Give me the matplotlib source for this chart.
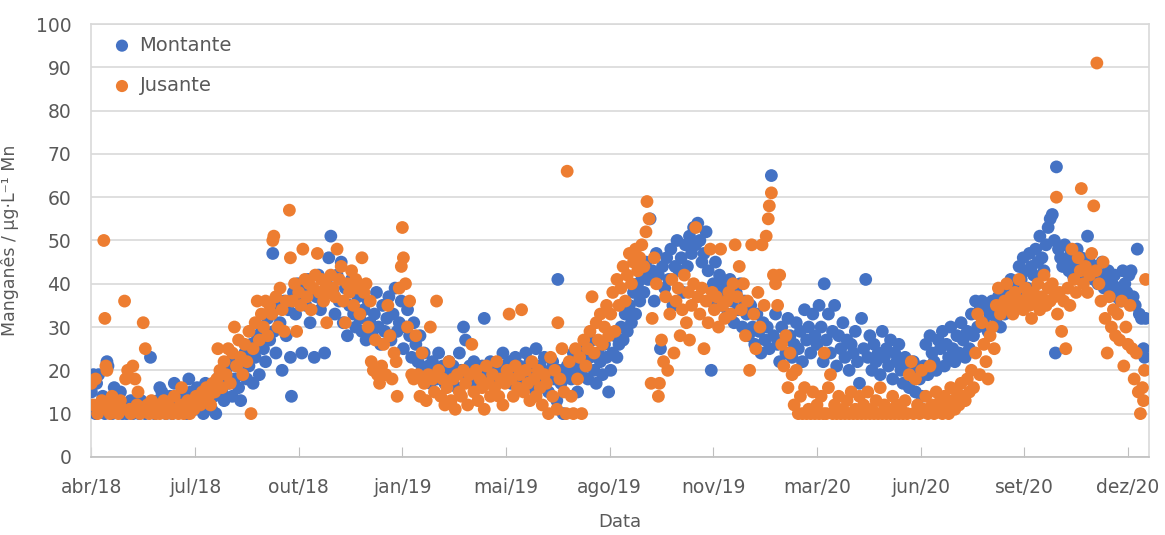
import matplotlib
matplotlib.use("Agg")
import matplotlib.pyplot as plt

# Manganese concentration, upstream (Montante) and downstream (Jusante)
# x values are days counted from 2 Apr 2018
mont_day = [0, 2, 4, 5, 7, 9, 11, 13, 15, 16, 18, 20, 22, 24, 26, 28, 30,
            32, 34, 36, 38, 40, 42, 44, 46, 48, 50, 52, 55, 57, 59,
            61, 64, 66, 68, 70, 72, 74, 76, 78, 80, 82, 84, 86, 88, 90, 92, 94,
            96, 98, 100, 102, 104, 106, 108, 110, 112, 114, 116, 118, 120, 122, 124, 126, 128,
            130, 132, 134, 136, 138, 140, 142, 144, 146, 148,
            150, 152, 154, 156, 158, 160, 162, 164, 166, 168, 170, 172, 174, 175, 176, 178,
            180, 182, 184, 186, 188, 190,
            192, 193, 195, 197, 199, 201, 203, 205, 207, 209, 211, 213, 215, 217, 219, 221,
            223, 225, 227, 229, 231, 233, 235, 237, 239, 241, 243, 245, 247, 249, 251, 253,
            255, 257, 259,
            261, 263, 265, 267, 269, 271, 273, 275, 277, 279, 281, 283, 285, 287, 289, 291,
            293, 295, 297, 299,
            301, 303, 305, 307, 309, 311, 313, 315, 317, 319, 321, 323, 325, 327, 329, 331,
            333, 335, 337, 339,
            341, 343, 345, 347, 349, 351, 353, 355, 357, 359, 361, 363, 365, 367, 369, 371,
            373, 375, 377, 379, 381, 383, 385, 387, 389, 391, 393, 395, 397, 399, 401, 403,
            405, 407, 409, 411, 413, 415, 417, 419,
            421, 423, 425, 427, 429, 431, 433, 435, 437, 439, 441, 443, 445, 447, 449, 450,
            451, 453, 455, 457, 459, 463, 465, 467, 469, 471, 473, 475, 477, 479, 481, 483,
            485, 487, 489, 491, 493, 495, 497, 499,
            501, 503, 505, 507, 509, 511, 513, 515, 517, 519, 521, 523, 525, 527, 529, 531,
            533, 535, 537, 539, 541, 543, 545, 547, 549, 551, 553, 555, 557, 559, 561, 563,
            565, 567, 569, 571, 573, 575, 577, 579, 581, 583, 585, 587, 589,
            591, 593, 595, 597, 598, 600, 602, 604, 606, 608, 610, 612, 614, 616, 618, 620,
            622, 624, 626, 628, 630, 632, 634, 636, 638, 640, 642, 644, 646, 648, 650,
            652, 654, 656, 658, 660, 662, 664, 666, 668, 670, 672, 674, 676, 678, 680, 682,
            684, 686, 688, 690, 692, 694, 696, 698,
            700, 702, 704, 706, 707, 709, 711, 713, 715, 717, 719, 721, 723, 725, 727, 729,
            731, 733, 735, 737, 739, 741, 743, 745, 747, 749, 751, 753, 755, 757, 759, 761,
            763, 765, 767, 769, 771, 773, 775, 777, 779,
            781, 783, 785, 787, 789, 791, 793, 795, 797, 799, 801, 803, 805, 807, 809, 811,
            813, 815, 817, 819, 821, 823, 825, 827, 829, 831, 833, 835, 837, 839, 841, 843,
            845, 847, 849, 851, 853, 855, 857, 859, 861, 863, 865, 867, 869,
            871, 873, 875, 877, 879, 881, 883, 885, 887, 889, 891, 893, 895, 897, 899, 901,
            903, 905, 907, 909, 911, 913, 915, 917, 919, 921, 923, 925, 927, 929, 930, 931,
            933, 935, 937, 939, 941, 943, 945, 947, 949, 951, 953, 955, 957, 959, 961, 963,
            965, 967, 969, 971, 973, 975, 977, 979, 981, 983, 985, 987, 989, 991, 993, 995,
            997, 999, 1001, 1003, 1005, 1007, 1009, 1011, 1013, 1015, 1016, 1017]
mont_val = [15, 19, 10, 17, 19, 12, 14, 10, 22, 21, 12, 10, 16, 13, 11, 15, 10,
            12, 10, 11, 13, 10, 12, 11, 10, 13, 11, 10, 12, 23, 11,
            10, 13, 16, 15, 11, 10, 13, 14, 10, 17, 12, 11, 13, 15, 11, 10, 18,
            15, 13, 11, 16, 14, 12, 10, 17, 15, 13, 11, 14, 10, 16, 19, 15, 13,
            20, 17, 22, 14, 18, 21, 16, 13, 19, 24,
            18, 21, 26, 17, 23, 28, 19, 30, 25, 22, 32, 27, 33, 47, 29, 24,
            35, 31, 20, 36, 28, 34,
            23, 14, 38, 33, 40, 36, 24, 39, 35, 41, 31, 38, 23, 37, 42, 34,
            36, 24, 40, 46, 51, 38, 33, 42, 36, 45, 31, 39, 28, 35, 41, 33,
            30, 37, 32,
            29, 34, 27, 36, 31, 28, 33, 38, 30, 26, 35, 29, 32, 37, 27, 33,
            39, 29, 31, 36,
            25, 30, 34, 28, 23, 31, 26, 22, 28, 20, 24, 19, 21, 17, 22, 20,
            18, 24, 19, 21,
            17, 20, 22, 18, 21, 19, 16, 24, 20, 30, 27, 18, 21, 19, 22, 17,
            20, 19, 21, 32, 18, 20, 22, 19, 17, 20, 21, 18, 24, 20, 19, 22,
            17, 20, 23, 19, 21, 18, 20, 24,
            19, 22, 16, 20, 25, 18, 21, 17, 23, 19, 15, 20, 22, 18, 13, 41,
            20, 17, 10, 19, 21, 18, 24, 20, 15, 22, 19, 25, 21, 18, 23, 27,
            20, 17, 24, 22, 19, 26, 23, 15,
            20, 24, 28, 23, 26, 30, 27, 33, 29, 35, 31, 38, 33, 40, 36, 42,
            38, 45, 41, 55, 43, 36, 47, 42, 25, 44, 39, 46, 41, 48, 35, 44,
            50, 43, 46, 38, 49, 44, 51, 47, 53, 49, 54, 50, 45,
            47, 52, 43, 36, 20, 40, 45, 38, 42, 35, 40, 37, 33, 41, 36, 31,
            38, 34, 40, 30, 36, 33, 28, 35, 30, 26, 33, 29, 24, 31, 27,
            30, 25, 65, 28, 33, 26, 22, 30, 27, 24, 32, 28, 23, 26, 31, 25,
            29, 22, 34, 27, 30, 24, 33, 28,
            26, 35, 30, 22, 40, 27, 33, 24, 29, 35, 21, 28, 25, 31, 23, 27,
            20, 26, 24, 29, 22, 17, 32, 25, 41, 23, 28, 20, 26, 22, 24, 19,
            29, 23, 25, 21, 27, 18, 24, 22, 26,
            20, 17, 23, 21, 16, 19, 22, 15, 20, 18, 14, 21, 26, 19, 28, 24,
            22, 20, 27, 25, 29, 21, 26, 23, 30, 25, 22, 28, 24, 31, 27, 23,
            29, 25, 33, 28, 36, 30, 34, 36, 31, 35, 29, 33, 36,
            34, 32, 37, 30, 35, 33, 38, 36, 41, 35, 40, 37, 44, 41, 46, 43,
            39, 47, 44, 42, 48, 45, 51, 46, 43, 49, 53, 55, 56, 50, 24, 67,
            48, 46, 44, 49, 45, 43, 47, 42, 45, 48, 44, 46, 42, 44, 51, 45,
            43, 41, 44, 40, 42, 45, 39, 41, 43, 38, 40, 42, 37, 39, 36, 43,
            40, 38, 42, 43, 37, 35, 48, 33, 32, 25, 23, 32]

jus_day = [0, 2, 4, 6, 8, 10, 12, 13, 14, 15, 16, 18, 20, 22, 24, 26, 28, 30,
           32, 33, 35, 37, 38, 40, 42, 44, 45, 47, 49, 50, 52, 54, 56, 58, 60,
           62, 64, 66, 68, 70, 72, 74, 76, 78, 80, 82, 84, 86, 87, 89, 91, 93, 95,
           97, 99, 101, 103, 105, 107, 109, 111, 113, 115, 117, 119, 121, 122, 124, 126,
           128, 130, 132, 134, 136, 138, 140, 142, 144, 146, 148, 150, 152, 154, 156, 158,
           160, 162, 164, 166, 168, 170, 172, 174, 175, 176, 178, 180, 182, 184, 186, 188,
           191, 192, 194, 196, 198, 200, 202, 204, 206, 208, 210, 212, 214, 216, 218, 220,
           222, 224, 226, 227, 229, 231, 233, 235, 237, 239, 241, 243, 245, 247, 249, 251,
           253, 255, 257, 259, 261, 263, 265, 267, 269,
           270, 272, 274, 276, 278, 280, 282, 284, 286, 288, 290, 292, 294, 295, 297, 299,
           300, 301, 303, 305, 307, 309,
           311, 313, 315, 317, 319, 321, 323, 325, 327, 329, 331, 333, 335, 337, 339, 341,
           343, 345, 347, 349, 351, 353, 355, 357, 359, 361, 363, 365, 367, 369, 371, 373,
           375, 377, 379, 381, 383, 385, 387, 389, 391, 393, 395, 397, 399, 401, 403, 405,
           407, 409, 411, 413, 415, 417, 419, 421, 423, 425, 427, 429, 431, 433, 435, 437,
           439, 441, 443, 445, 447, 449, 450, 452, 454, 456, 458, 459, 461, 463, 465, 467,
           469, 471, 473, 475, 477, 479, 481, 483, 485, 487, 489, 491, 493, 495, 497, 499,
           501, 503, 505, 507, 509, 511, 513, 515, 517, 519, 521, 523, 525, 527, 529, 531,
           533, 535, 536, 538, 540, 541, 543, 545, 547, 548, 550, 552, 554, 556, 558, 560,
           562, 564, 566, 568, 570, 572, 574, 576, 577, 579, 581, 583, 585, 587, 589, 591,
           593, 595, 597, 599, 601, 603, 605, 607, 609, 611, 613, 615, 617, 619, 621, 623,
           625, 627, 629, 631, 633, 635, 637, 639, 641, 643, 645, 647, 649, 651, 653, 654,
           656, 658, 660, 662, 664, 666, 668, 670, 672, 674, 676, 678, 680,
           682, 684, 686, 688, 690, 692, 694, 696, 698, 700, 702, 704, 706, 707, 709, 711,
           713, 715, 717, 719, 721, 723, 725, 727, 729, 731, 733, 735, 737, 739, 741, 743,
           745, 747, 749, 751, 753, 755, 757, 759, 761, 763, 765, 767, 769, 771, 773, 775,
           777, 779, 781, 783, 785, 787, 789, 791, 793, 795, 797, 799, 801, 803, 805, 807,
           809, 811, 813, 815, 817, 819, 821, 823, 825, 827, 829, 831, 833, 835, 837, 839,
           841, 843, 845, 847, 849, 851, 853, 855, 857, 859, 861, 863, 865, 867, 869, 871,
           873, 875, 877,
           879, 881, 883, 885, 887, 889, 891, 893, 895, 897, 899, 901, 903, 905, 907, 909,
           911, 913, 915, 917, 919, 921, 923, 925, 927, 929, 931, 932, 934, 936, 938, 940,
           942, 944, 946, 948, 950, 952, 954, 955, 957, 959, 961, 963, 965, 967, 969, 970,
           972, 974, 976, 978, 980, 982, 984, 986, 988, 990, 992, 994, 996, 998, 1000, 1002,
           1004, 1006, 1008, 1010, 1012, 1014, 1015, 1016, 1017]
jus_val = [17, 12, 18, 10, 11, 13, 50, 32, 21, 20, 12, 10, 14, 11, 12, 10, 13, 11,
           36, 18, 20, 11, 10, 21, 18, 12, 15, 10, 11, 31, 25, 12, 10, 13, 11,
           10, 12, 10, 11, 13, 10, 12, 11, 10, 14, 11, 10, 12, 16, 10, 11, 13, 10,
           12, 11, 14, 13, 12, 15, 13, 16, 14, 12, 17, 15, 18, 25, 20, 16,
           22, 19, 25, 17, 24, 30, 21, 27, 23, 19, 26, 22, 29, 10, 25, 31,
           36, 27, 33, 30, 36, 28, 35, 33, 50, 51, 37, 30, 39, 34, 29, 36,
           57, 46, 36, 40, 29, 38, 35, 48, 41, 37, 40, 34, 39, 42, 47, 38,
           41, 36, 40, 31, 38, 42, 39, 37, 48, 41, 44, 36, 31, 40, 38, 43,
           35, 41, 39, 33, 46, 38, 40, 30, 36,
           22, 20, 27, 19, 17, 21, 26, 19, 35, 28, 18, 24, 22, 14, 39, 44,
           53, 46, 40, 30, 36, 19,
           18, 28, 19, 14, 24, 17, 13, 19, 30, 18, 15, 36, 20, 14, 18, 12,
           16, 22, 13, 18, 11, 19, 15, 14, 20, 17, 12, 19, 26, 15, 20, 13,
           18, 16, 11, 21, 17, 14, 19, 16, 22, 14, 18, 12, 17, 20, 33, 18,
           14, 21, 16, 19, 34, 15, 20, 17, 13, 22, 18, 14, 20, 16, 12, 19,
           17, 10, 23, 14, 20, 11, 31, 18, 25, 15, 10, 66, 22, 14, 10, 25,
           18, 23, 10, 27, 21, 25, 29, 37, 24, 31, 27, 33, 26, 30, 35, 28,
           33, 38, 29, 41, 35, 39, 44, 36, 42, 47, 40, 45, 48, 43, 46, 49,
           44, 52, 59, 55, 17, 32, 46, 40, 14, 17, 27, 22, 37, 20, 33, 41,
           24, 36, 39, 28, 34, 42, 31, 38, 27, 35, 40, 53, 37, 33, 39, 25,
           36, 31, 48, 38, 34, 37, 30, 48, 35, 32, 36, 38, 33, 40, 49, 37,
           44, 34, 40, 28, 36, 20, 49, 33, 25, 38, 30, 49, 35, 51, 55, 58,
           61, 42, 40, 35, 42, 26, 21, 28, 16, 24, 19, 12, 20,
           10, 14, 10, 16, 10, 11, 10, 15, 10, 12, 10, 14, 10, 24, 10, 16,
           19, 10, 12, 10, 14, 10, 11, 10, 13, 10, 15, 10, 11, 10, 14, 10,
           12, 10, 15, 10, 11, 10, 13, 10, 16, 10, 12, 10, 11, 10, 14, 10,
           12, 10, 11, 10, 13, 10, 19, 22, 10, 18, 12, 10, 20, 11, 14, 10,
           21, 12, 10, 15, 11, 13, 10, 14, 12, 10, 16, 13, 11, 15, 12, 17,
           14, 13, 18, 15, 20, 16, 24, 33, 19, 31, 26, 22, 18, 28, 30, 25,
           35, 39, 33,
           34, 36, 40, 35, 37, 33, 38, 35, 41, 36, 34, 39, 37, 35, 32, 38,
           36, 40, 34, 37, 42, 35, 39, 36, 40, 37, 60, 33, 38, 29, 36, 25,
           39, 35, 48, 41, 38, 46, 43, 62, 40, 44, 38, 42, 47, 58, 43, 91,
           40, 36, 45, 32, 24, 37, 30, 34, 28, 33, 27, 36, 21, 30, 26, 35,
           25, 18, 24, 15, 10, 16, 13, 20, 41]

tick_labels = ["abr/18", "jul/18", "out/18", "jan/19", "mai/19", "ago/19",
               "nov/19", "mar/20", "jun/20", "set/20", "dez/20"]
tick_days = [0, 100, 200, 300, 400, 500, 600, 700, 800, 900, 1000]

text_col = "#595959"
grid_col = "#D9D9D9"

fig = plt.figure(figsize=(11.65, 5.35), dpi=100)
ax = fig.add_axes([0.078, 0.146, 0.908, 0.809])

ax.scatter(mont_day, mont_val, s=85, color="#4472C4", edgecolors="none",
           label="Montante", zorder=3)
ax.scatter(jus_day, jus_val, s=85, color="#ED7D31", edgecolors="none",
           label="Jusante", zorder=4)

ax.set_xlim(-0.5, 1020)
ax.set_ylim(0, 100)
ax.set_yticks(range(0, 101, 10))
ax.set_xticks(tick_days)
ax.set_xticklabels(tick_labels)

ax.grid(axis="y", color=grid_col, linewidth=1.2, zorder=0)
ax.set_axisbelow(True)
for sp in ax.spines.values():
    sp.set_color(grid_col)
    sp.set_linewidth(1.2)
ax.spines["bottom"].set_color("#BFBFBF")

ax.tick_params(axis="x", direction="in", length=7, color="#BFBFBF",
               labelsize=13.5, labelcolor=text_col, pad=15)
ax.tick_params(axis="y", length=0, labelsize=13.5, labelcolor=text_col, pad=14)

ax.set_xlabel("Data", fontsize=13, color=text_col, labelpad=12)
ax.set_ylabel("Manganês / µg·L⁻¹ Mn", fontsize=12.5, color=text_col, labelpad=12)

leg = ax.legend(loc="upper left", frameon=False, fontsize=14, handletextpad=-0.1,
                scatterpoints=1, markerscale=0.95, labelspacing=1.1,
                borderaxespad=0.2, bbox_to_anchor=(0.0, 1.0))
for t in leg.get_texts():
    t.set_color(text_col)

fig.savefig("out.png", dpi=100)
